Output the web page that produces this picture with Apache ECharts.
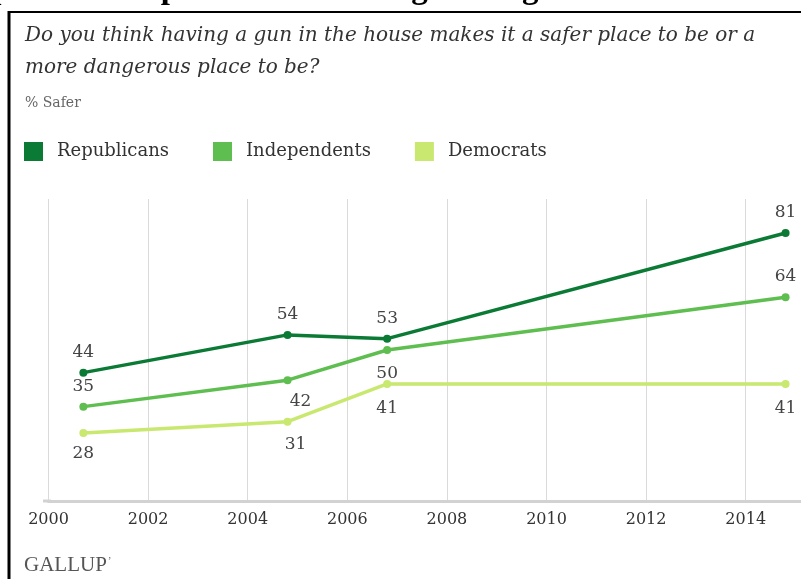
<!DOCTYPE html>
<html><head><meta charset="utf-8">
<script src="https://cdn.jsdelivr.net/npm/echarts@6/dist/echarts.min.js"></script>
<style>html,body{margin:0;padding:0;background:#fff}#c{width:801px;height:579px}</style>
</head><body><div id="c"></div>
<script>
// ---- data ----
const surveyYears = [2000.7, 2004.8, 2006.8, 2014.8];
const republicans = [44, 54, 53, 81];
const independents = [35, 42, 50, 64];
const democrats = [28, 31, 41, 41];
const seriesNames = ['Republicans', 'Independents', 'Democrats'];
const tickYears = [2000, 2002, 2004, 2006, 2008, 2010, 2012, 2014];
const headerText = 'Perception of Respondents Believing Having a Gun at Home Makes It Safer';
const titleLine1 = 'Do you think having a gun in the house makes it a safer place to be or a';
const titleLine2 = 'more dangerous place to be?';
const subTitle = '% Safer';

// ---- label placement (style, not data) ----
const labelPlace = {
  Republicans: [['top',[0,0]],['top',[0,0]],['top',[0,0]],['top',[0,0]]],
  Independents: [['top',[0,0]],['bottom',[13,1]],['bottom',[0,3]],['top',[0,0]]],
  Democrats: [['bottom',[0,0]],['bottom',[8,2]],['bottom',[0,4]],['bottom',[0,4]]]
};
const colors = { Republicans: '#0b7a35', Independents: '#5fbe50', Democrats: '#c8e86f' };
const serif = 'DejaVu Serif';

function build(name, vals) {
  return {
    name: name, type: 'line', symbol: 'circle', symbolSize: 8,
    lineStyle: { width: 3.5, color: colors[name] },
    itemStyle: { color: colors[name] },
    z: name === 'Republicans' ? 5 : (name === 'Independents' ? 4 : 3),
    label: { show: true, color: '#444', fontFamily: serif, fontSize: 17, distance: 8 },
    data: vals.map((v, i) => ({
      value: [surveyYears[i], v],
      label: { position: labelPlace[name][i][0], offset: labelPlace[name][i][1] }
    }))
  };
}

const chart = echarts.init(document.getElementById('c'), null, { renderer: 'canvas' });
chart.setOption({
  animation: false,
  backgroundColor: '#fff',
  color: seriesNames.map(n => colors[n]),
  legend: {
    data: seriesNames, left: 24, top: 142, icon: 'rect', padding: 0,
    itemWidth: 19, itemHeight: 19, itemGap: 44,
    textStyle: { fontFamily: serif, fontSize: 18, color: '#333', padding: [0, 0, 0, 9] }
  },
  grid: { left: 48.5, right: 0, top: 199, bottom: 78 },
  xAxis: {
    type: 'value', min: 2000, max: 2015.11, interval: 2,
    axisLine: { show: true, lineStyle: { color: '#d2d2d2', width: 3 } },
    axisTick: { show: false },
    splitLine: { show: true, lineStyle: { color: '#dadada', width: 1 } },
    axisLabel: {
      showMaxLabel: false, margin: 11, color: '#333', fontFamily: serif, fontSize: 16,
      formatter: v => (tickYears.indexOf(v) >= 0 ? String(v) : '')
    }
  },
  yAxis: { type: 'value', min: 10, max: 90, show: false, splitLine: { show: false } },
  graphic: [
    { type: 'text', x: -86, y: -27, style: { text: headerText, font: 'bold 33px "Liberation Serif"', fill: '#000', verticalAlign: 'top' } },
    { type: 'rect', shape: { x: 43, y: 499.5, width: 8, height: 3 }, style: { fill: '#d2d2d2' } },
    { type: 'line', shape: { x1: 8, y1: 12, x2: 801, y2: 12 }, style: { stroke: '#000', lineWidth: 2 } },
    { type: 'line', shape: { x1: 9, y1: 11, x2: 9, y2: 579 }, style: { stroke: '#000', lineWidth: 3 } },
    { type: 'text', x: 25, y: 26, style: { text: titleLine1, font: 'italic 20px "DejaVu Serif"', fill: '#333', verticalAlign: 'top' } },
    { type: 'text', x: 25, y: 58, style: { text: titleLine2, font: 'italic 20px "DejaVu Serif"', fill: '#333', verticalAlign: 'top' } },
    { type: 'text', x: 25, y: 96, style: { text: subTitle, font: '14px "DejaVu Serif"', fill: '#666', verticalAlign: 'top' } },
    { type: 'text', x: 24, y: 555, style: { text: 'GALLUP', font: '21px "Liberation Serif"', fill: '#555', verticalAlign: 'top' } },
    { type: 'text', x: 108, y: 556, style: { text: '\u2019', font: '10px "Liberation Serif"', fill: '#555', verticalAlign: 'top' } }
  ],
  series: [
    build('Democrats', democrats),
    build('Independents', independents),
    build('Republicans', republicans)
  ]
});
</script></body></html>
